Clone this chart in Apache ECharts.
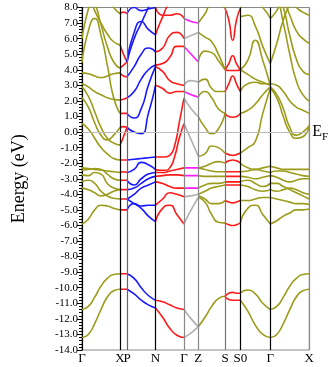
<!DOCTYPE html>
<html>
<head>
<meta charset="utf-8">
<script src="https://cdn.jsdelivr.net/npm/echarts@6/dist/echarts.min.js"></script>
<style>
  html, body { margin: 0; padding: 0; background: #fff; }
  #chart { width: 332px; height: 367px; }
</style>
</head>
<body>
<div id="chart"></div>
<script>
// k-path positions of the high-symmetry points and their labels
const kTicks = [0, 38, 45, 73.5, 102, 116.3, 143, 158.3, 188.3, 227.3];
const kLabels = ["Γ", "X", "P", "N", "Γ", "Z", "S", "S0", "Γ", "X"];
const kLineColors = ["#000", "#000", "#666", "#000", "#888", "#888", "#777", "#000", "#000", "#888"];

// bands per segment, energies (eV) sampled evenly along the segment
const bandsGX1 = [
  [6.0, 7.9, 9.0, 9.0, 8.6, 8.0, 7.6],
  [4.45, 6.5, 7.3, 6.2, 4.3, 2.2, 1.2],
  [9.0, 8.8, 7.8, 7.0, 6.3, 5.8, 5.6],
  [9.0, 9.0, 8.3, 6.9, 5.5, 4.5, 4.1],
  [3.8, 3.75, 3.6, 3.5, 3.6, 3.75, 3.8],
  [3.1, 2.9, 2.6, 2.4, 2.2, 2.1, 2.05],
  [2.9, 2.3, 1.3, 0.3, -0.4, -0.7, -0.85],
  [2.2, 1.6, 0.6, -0.2, -0.5, -0.2, 0.3],
  [0.55, 0.2, -0.4, -1.0, -1.4, -1.7, -1.8],
  [-2.3, -2.35, -2.4, -2.45, -2.5, -2.55, -2.6],
  [-2.45, -2.4, -2.35, -2.4, -2.7, -3.0, -3.1],
  [-2.75, -2.8, -2.6, -2.7, -3.3, -3.6, -3.7],
  [-3.2, -3.1, -3.3, -3.8, -4.1, -4.25, -4.3],
  [-3.6, -3.7, -3.9, -4.1, -4.0, -3.8, -3.7],
  [-5.9, -5.6, -5.0, -4.7, -4.75, -4.9, -5.0],
  [-11.4, -11.2, -10.6, -9.9, -9.4, -9.15, -9.1],
  [-13.2, -13.0, -12.3, -11.4, -10.6, -10.2, -10.1]
];
const bandsXP = [
  [7.6, 7.7, 7.6], [5.6, 5.0, 4.5], [4.1, 4.3, 4.5], [3.8, 3.6, 3.55],
  [2.05, 2.1, 2.2], [1.2, 1.2, 1.2], [0.3, 0.35, 0.3], [-0.85, -0.3, 0.3],
  [-1.8, -1.8, -1.8], [-2.6, -2.55, -2.6], [-3.1, -3.1, -3.1], [-3.7, -3.7, -3.7],
  [-4.3, -4.3, -4.3], [-5.0, -5.0, -5.0], [-9.1, -9.1, -9.1], [-10.1, -10.1, -10.1]
];
const bandsPN = [
  [7.6, 8.0, 7.8, 7.9, 8.0],
  [4.5, 6.0, 7.0, 8.0, 9.0],
  [4.5, 6.4, 7.1, 6.6, 6.25],
  [3.55, 4.2, 5.0, 5.4, 5.15],
  [2.2, 2.6, 3.4, 4.0, 4.3],
  [1.2, 0.9, 1.5, 3.0, 4.2],
  [0.3, 0.0, -0.1, 1.2, 3.0],
  [-1.8, -1.75, -1.7, -1.65, -1.6],
  [-2.6, -2.4, -1.95, -2.1, -2.4],
  [-3.1, -3.4, -3.0, -2.7, -2.6],
  [-3.7, -3.6, -3.3, -3.0, -2.85],
  [-4.3, -4.0, -3.6, -3.4, -3.2],
  [-5.0, -4.6, -4.75, -4.7, -4.7],
  [-4.3, -4.6, -4.9, -5.4, -5.75],
  [-9.1, -9.4, -10.0, -10.5, -10.8],
  [-10.1, -10.4, -10.8, -11.1, -11.3]
];
const bandsNG = [
  [8.0, 7.5, 7.5, 7.6, 7.3],
  [6.25, 7.4, 8.3, 8.6, 9.0],
  [5.15, 5.4, 6.2, 6.4, 6.0],
  [4.3, 4.4, 4.8, 5.5, 5.5],
  [4.2, 3.9, 3.3, 3.1, 3.0],
  [3.0, 2.8, 2.5, 2.6, 2.6],
  [-1.6, -1.6, -1.6, -1.5, -0.9, 0.6, 2.2],
  [-2.4, -2.45, -2.45, -2.3, -1.6, -0.4, 0.55],
  [-2.6, -2.6, -2.5, -2.4, -2.3],
  [-2.85, -2.8, -2.75, -2.75, -2.8],
  [-3.2, -3.3, -3.5, -3.6, -3.6],
  [-4.7, -4.3, -3.9, -4.0, -4.15],
  [-5.75, -4.9, -4.7, -5.3, -5.9],
  [-10.8, -10.9, -11.1, -11.3, -11.4],
  [-11.3, -11.9, -12.6, -13.05, -13.2]
];
const bandsGZgray = [
  [6.0, 6.2, 6.4], [3.0, 3.3, 3.2], [2.2, 1.5, 1.0], [0.55, -0.5, -1.55],
  [-4.15, -4.1, -4.0], [-5.9, -5.0, -4.2], [-11.4, -12.0, -12.5], [-13.2, -12.9, -12.5]
];
const bandsGZmag = [
  [7.3, 7.1, 7.0], [5.5, 5.0, 4.5], [2.6, 2.4, 2.25],
  [-2.3, -2.3, -2.3], [-2.8, -2.8, -2.8], [-3.6, -3.6, -3.6]
];
const bandsZS = [
  [7.0, 7.6, 8.2, 8.2, 7.95],
  [6.4, 6.1, 5.8, 5.0, 4.0],
  [4.5, 5.2, 5.1, 4.6, 4.0],
  [3.2, 3.4, 2.8, 2.6, 2.6],
  [2.25, 2.6, 2.2, 1.5, 1.2],
  [1.0, 0.3, -0.1, 0.2, 1.2],
  [-1.55, -1.4, -0.9, -1.0, -1.35],
  [-2.3, -2.2, -2.0, -1.9, -2.0],
  [-2.3, -2.4, -2.5, -2.55, -2.55],
  [-2.8, -2.85, -2.85, -2.85, -2.85],
  [-3.6, -3.4, -3.3, -3.3, -3.2],
  [-4.0, -3.8, -3.6, -3.5, -3.4],
  [-4.1, -4.3, -4.6, -4.6, -4.4],
  [-4.2, -4.5, -5.3, -5.8, -5.85],
  [-12.5, -11.9, -11.2, -10.7, -10.55]
];
const bandsSS0 = [
  [7.95, 7.2, 5.9, 7.2, 7.95],
  [4.0, 4.4, 4.9, 4.4, 4.0],
  [4.0, 3.95, 3.95, 3.95, 4.0],
  [2.6, 3.1, 3.6, 3.1, 2.6],
  [1.2, 1.0, 0.95, 1.0, 1.2],
  [-1.35, -1.45, -1.5, -1.45, -1.35],
  [-2.0, -1.85, -1.8, -1.85, -2.0],
  [-2.55, -2.55, -2.55, -2.55, -2.55],
  [-2.85, -2.85, -2.85, -2.85, -2.85],
  [-3.2, -3.2, -3.2, -3.2, -3.2],
  [-3.4, -3.4, -3.4, -3.4, -3.4],
  [-4.4, -4.5, -4.55, -4.5, -4.4],
  [-5.85, -5.95, -6.0, -5.95, -5.85],
  [-10.55, -10.35, -10.3, -10.35, -10.35],
  [-10.55, -10.75, -10.8, -10.8, -10.8]
];
const bandsS0G = [
  [7.95, 8.3, 8.4, 8.0, 7.3],
  [7.4, 7.5, 6.8, 5.5, 4.4],
  [4.0, 4.6, 5.9, 4.6, 3.0],
  [2.6, 3.1, 3.2, 3.1, 3.1],
  [1.2, 1.4, 1.8, 2.4, 2.9],
  [4.0, 3.7, 3.4, 3.2, 3.0],
  [-1.35, -1.0, -0.6, 1.2, 2.8],
  [-2.0, -2.3, -2.4, -2.3, -2.2],
  [-2.55, -2.5, -2.4, -2.5, -2.6],
  [-2.85, -2.9, -3.0, -2.9, -2.8],
  [-3.2, -3.1, -3.3, -3.5, -3.3],
  [-3.4, -3.5, -3.7, -3.8, -3.7],
  [-4.4, -4.4, -4.3, -4.2, -4.2],
  [-5.85, -4.9, -4.7, -5.3, -5.9],
  [-10.35, -10.15, -10.4, -11.0, -11.4],
  [-10.8, -11.5, -12.4, -13.0, -13.2]
];
const bandsGX2 = [
  [4.4, 5.7, 7.2, 8.2, 9.0, 9.0, 9.0],
  [7.3, 7.8, 8.6, 8.4, 8.0, 7.7, 7.5],
  [9.0, 9.0, 8.5, 7.5, 6.5, 6.0, 5.7],
  [9.0, 9.0, 8.0, 6.2, 4.7, 3.9, 3.7],
  [9.0, 8.6, 7.0, 5.0, 3.3, 2.4, 2.0],
  [3.1, 3.0, 2.6, 2.0, 1.6, 1.4, 1.2],
  [2.9, 2.4, 1.5, 0.3, -0.2, 0.0, 0.4],
  [2.8, 2.2, 1.0, 0.0, -0.4, -0.3, 0.4],
  [-2.2, -2.3, -2.4, -2.4, -2.4, -2.4, -2.4],
  [-2.6, -2.5, -2.5, -2.6, -2.7, -2.8, -2.85],
  [-2.8, -2.9, -3.1, -3.2, -3.1, -3.0, -3.0],
  [-3.3, -3.3, -3.5, -3.7, -3.9, -4.1, -4.3],
  [-3.7, -3.8, -3.7, -3.6, -3.7, -3.9, -4.0],
  [-4.2, -4.3, -4.4, -4.5, -4.6, -4.6, -4.65],
  [-5.9, -5.7, -5.4, -5.2, -5.0, -5.0, -4.95],
  [-11.4, -11.2, -10.6, -9.9, -9.4, -9.15, -9.1],
  [-13.2, -13.0, -12.3, -11.4, -10.6, -10.2, -10.1]
];

const OLIVE = "#9c9c1c";
const RED = "#ff1a1a";
const BLUE = "#1a1aff";
const MAGENTA = "#ff1aff";
const GRAY = "#b0b0b0";

const segments = [
  { from: 0, to: 1, color: OLIVE, bands: bandsGX1 },
  { from: 1, to: 2, color: RED, bands: bandsXP },
  { from: 2, to: 3, color: BLUE, bands: bandsPN },
  { from: 3, to: 4, color: RED, bands: bandsNG },
  { from: 4, to: 5, color: GRAY, bands: bandsGZgray },
  { from: 4, to: 5, color: MAGENTA, bands: bandsGZmag },
  { from: 5, to: 6, color: OLIVE, bands: bandsZS },
  { from: 6, to: 7, color: RED, bands: bandsSS0 },
  { from: 7, to: 8, color: OLIVE, bands: bandsS0G },
  { from: 8, to: 9, color: OLIVE, bands: bandsGX2 }
];

const serif = "Liberation Serif";
const series = [];
segments.forEach((seg) => {
  const k0 = kTicks[seg.from];
  const k1 = kTicks[seg.to];
  seg.bands.forEach((band) => {
    const n = band.length;
    series.push({
      type: "line",
      data: band.map((e, j) => [k0 + ((k1 - k0) * j) / (n - 1), e]),
      smooth: 0.6,
      showSymbol: false,
      symbol: "none",
      silent: true,
      clip: true,
      lineStyle: { color: seg.color, width: 1.6 },
      z: 3
    });
  });
});

// high-symmetry verticals and the Fermi level
series.push({
  type: "line",
  data: [],
  silent: true,
  markLine: {
    silent: true,
    symbol: "none",
    animation: false,
    label: { show: false },
    data: kTicks.slice(1).map((k, i) => ({
      xAxis: k,
      lineStyle: { color: kLineColors[i + 1], width: 1.2, type: "solid" }
    })).concat([{
      yAxis: 0,
      lineStyle: { color: "#bbbbbb", width: 1.2, type: "solid" },
      label: {
        show: true,
        position: "end",
        distance: 3,
        formatter: "{e|E}{f|F}",
        rich: {
          e: { fontFamily: serif, fontSize: 16, color: "#000" },
          f: { fontFamily: serif, fontSize: 11, color: "#000", padding: [10, 0, 0, 0] }
        }
      }
    }])
  },
  z: 1
});

const chart = echarts.init(document.getElementById("chart"), null, { renderer: "canvas" });
chart.setOption({
  animation: false,
  grid: {
    left: 82, right: 22.7, top: 7.5, bottom: 17,
    show: true, borderColor: "#888", borderWidth: 1
  },
  xAxis: {
    type: "value",
    min: 0,
    max: kTicks[kTicks.length - 1],
    axisLine: { show: true, lineStyle: { color: "#000", width: 1.2 } },
    axisTick: { show: false },
    splitLine: { show: false },
    axisLabel: {
      customValues: kTicks,
      formatter: (v) => kLabels[kTicks.indexOf(v)] || "",
      fontFamily: serif,
      fontSize: 13,
      color: "#000",
      margin: 2
    }
  },
  yAxis: {
    type: "value",
    min: -14,
    max: 8,
    interval: 1,
    name: "Energy (eV)",
    nameLocation: "middle",
    nameGap: 54,
    nameTextStyle: { fontFamily: serif, fontSize: 18, color: "#000" },
    axisLine: { show: true, lineStyle: { color: "#000", width: 1.2 } },
    axisTick: { show: true, length: 5, lineStyle: { color: "#000" } },
    minorTick: { show: true, splitNumber: 5, length: 3, lineStyle: { color: "#000" } },
    splitLine: { show: false },
    axisLabel: {
      formatter: (v) => v.toFixed(1),
      fontFamily: serif,
      fontSize: 11,
      color: "#000",
      margin: 4
    }
  },
  series: series
});
</script>
</body>
</html>
